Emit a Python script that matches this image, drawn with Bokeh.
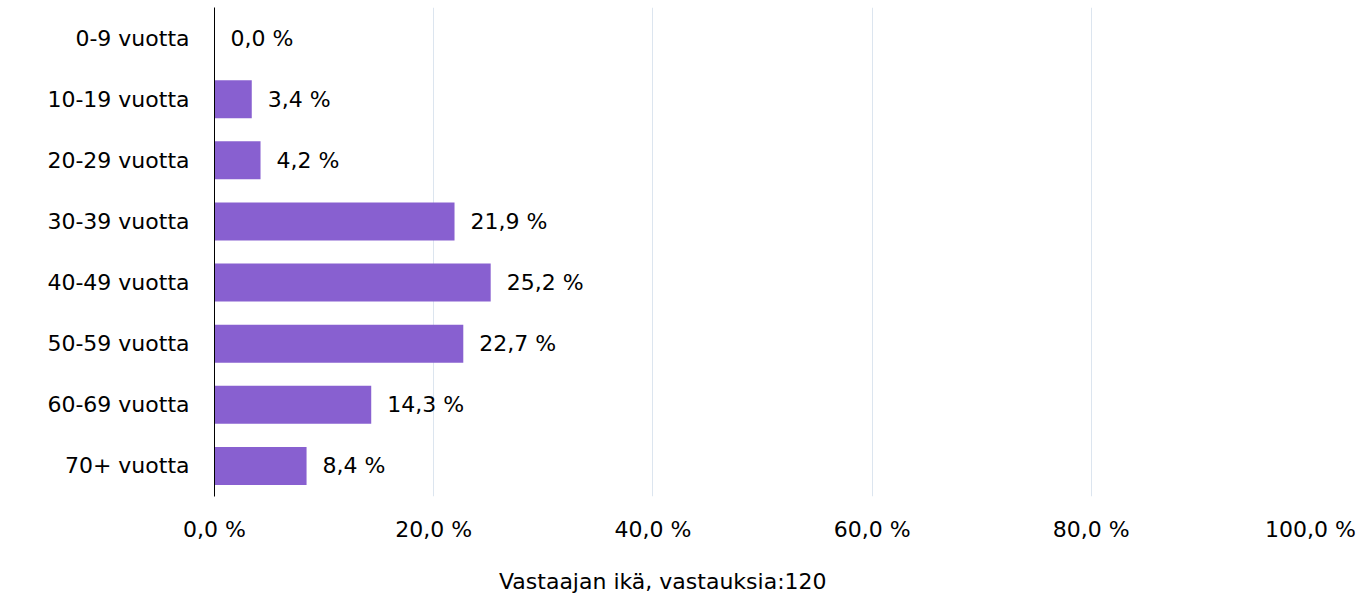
from bokeh.plotting import figure
from bokeh.layouts import column
from bokeh.models import ColumnDataSource, FixedTicker, Legend, LegendItem, FactorRange, CDSView, IndexFilter
from bokeh.core.properties import value
from bokeh.embed import file_html
from bokeh.resources import INLINE

categories = ["0-9 vuotta", "10-19 vuotta", "20-29 vuotta", "30-39 vuotta",
              "40-49 vuotta", "50-59 vuotta", "60-69 vuotta", "70+ vuotta"]
values = [0.0, 3.4, 4.2, 21.9, 25.2, 22.7, 14.3, 8.4]
value_labels = ["0,0 %", "3,4 %", "4,2 %", "21,9 %", "25,2 %", "22,7 %", "14,3 %", "8,4 %"]
tick_values = [0, 20, 40, 60, 80, 100]
tick_labels = ["0,0 %", "20,0 %", "40,0 %", "60,0 %", "80,0 %", "100,0 %"]
series_name = "Vastaajan ikä, vastauksia:120"

FONT = "DejaVu Sans"
FS = "22px"
BAR = "#8860d0"

src = ColumnDataSource(dict(cat=categories, val=values, lab=value_labels))

p = figure(width=1363, height=544,
           output_backend="svg", toolbar_location=None,
           y_range=FactorRange(*list(reversed(categories)), range_padding=0),
           x_range=(0, 100),
           min_border_left=214, min_border_right=53, min_border_top=7, min_border_bottom=0)
p.outline_line_color = None
p.background_fill_color = "white"
p.border_fill_color = "white"

r = p.hbar(y="cat", right="val", left=0, height=0.62, source=src,
           fill_color=BAR, line_color=None)

p.text(x="val", y="cat", text="lab", source=src, x_offset=16,
       text_baseline="middle", text_align="left",
       text_font=value(FONT), text_font_size=FS, text_color="#000000")

# x axis
p.xaxis.ticker = FixedTicker(ticks=tick_values)
p.xaxis.major_label_overrides = {t: l for t, l in zip(tick_values, tick_labels)}
p.xaxis.axis_line_color = None
p.xaxis.major_tick_line_color = None
p.xaxis.minor_tick_line_color = None
p.xaxis.major_tick_out = 0
p.xaxis.major_label_text_font = FONT
p.xaxis.major_label_text_font_size = FS
p.xaxis.major_label_text_color = "#000000"
p.xaxis.major_label_standoff = 20

# y axis
p.yaxis.axis_line_color = "#000000"
p.yaxis.axis_line_width = 1
p.yaxis.major_tick_line_color = None
p.yaxis.minor_tick_line_color = None
p.yaxis.major_tick_out = 0
p.yaxis.major_label_text_font = FONT
p.yaxis.major_label_text_font_size = FS
p.yaxis.major_label_text_color = "#000000"
p.yaxis.major_label_standoff = 25

p.xgrid.grid_line_color = "#dce5ef"
p.xgrid.grid_line_width = 1
p.ygrid.grid_line_color = None

# legend strip below the chart (its renderer shows no rows, only the legend)
q = figure(width=1363, height=56, output_backend="svg", toolbar_location=None,
           x_range=(0, 100), y_range=FactorRange(*categories),
           min_border_left=0, min_border_right=0, min_border_top=0, min_border_bottom=0)
q.axis.visible = False
q.grid.visible = False
q.outline_line_color = None
q.background_fill_color = "white"
q.border_fill_color = "white"
lr = q.hbar(y="cat", right="val", left=0, height=0.62, source=src,
            view=CDSView(filter=IndexFilter(indices=[])),
            fill_color=BAR, line_color=None)

legend = Legend(items=[LegendItem(label=series_name, renderers=[lr])],
                orientation="horizontal", location=(264, 6),
                label_text_font=FONT, label_text_font_size=FS,
                label_text_color="#000000",
                glyph_width=16, glyph_height=16, label_standoff=5,
                border_line_color=None, background_fill_alpha=0,
                padding=0, margin=0)
q.add_layout(legend)

layout = column(p, q, spacing=0)
open("out.html", "w").write(file_html(layout, INLINE))
